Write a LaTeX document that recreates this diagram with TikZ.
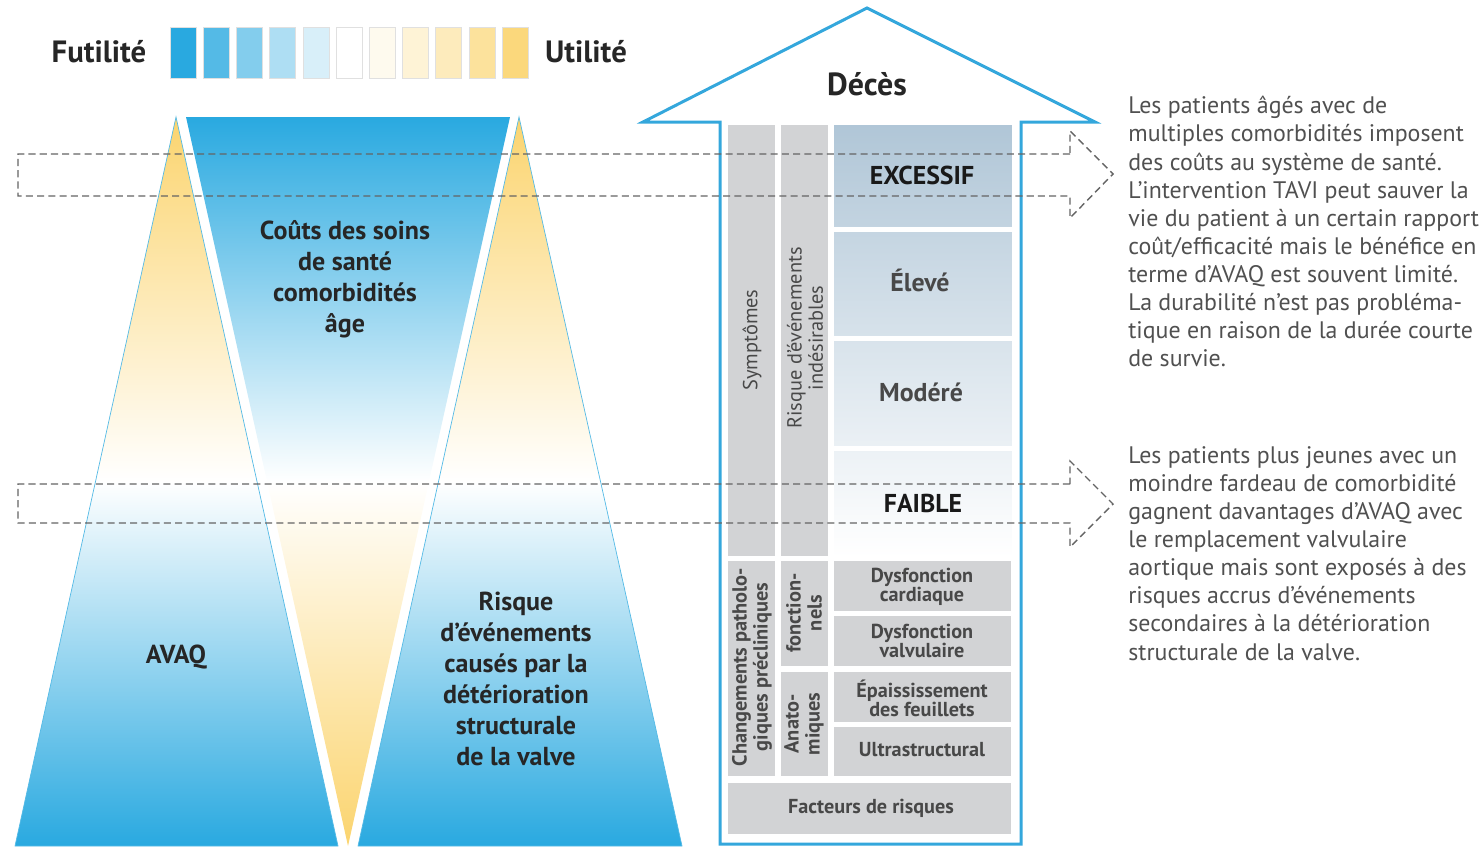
\documentclass[tikz,border=0pt]{standalone}
\usepackage{fontspec}
\setmainfont{PT Sans}
\usetikzlibrary{positioning}

\definecolor{skyblue}{RGB}{41,169,224}
\definecolor{sunyellow}{RGB}{251,212,110}
\definecolor{cellgray}{RGB}{210,211,213}
\definecolor{steel}{RGB}{176,198,215}
\definecolor{inkgray}{RGB}{72,72,72}
\definecolor{notegray}{RGB}{80,80,80}
\definecolor{dashgray}{RGB}{100,100,100}
\definecolor{arrowblue}{RGB}{52,167,220}

\tikzset{
  trilabel/.style={font=\bfseries\fontsize{14.8}{17.6}\selectfont, text=black!85, align=center},
  head/.style={font=\bfseries\fontsize{17.5}{19}\selectfont, text=black!85},
  cell/.style={fill=cellgray, draw=white, line width=0.6pt},
  celltext/.style={font=\bfseries\fontsize{11.5}{11}\selectfont, text=inkgray, align=center},
  sidetext/.style={font=\bfseries\fontsize{11.6}{12}\selectfont, text=inkgray, align=center, rotate=90},
  risktext/.style={font=\bfseries\fontsize{14.7}{16}\selectfont, text=inkgray},
  notetext/.style={font=\fontsize{13.6}{16}\selectfont, text=notegray, align=left, anchor=north west, inner sep=0pt},
  guide/.style={draw=dashgray, dash pattern=on 4pt off 2.4pt, line width=0.8pt}
}

\begin{document}
\begin{tikzpicture}[x=0.02cm, y=-0.02cm]
  \useasboundingbox (0,0) rectangle (1483,846);
  \newcommand{\legStep}{33.2}
  \newcommand{\legWidth}{26}

  % legend scale
  \foreach \c [count=\i from 0] in {skyblue, skyblue!80!white, skyblue!58!white, skyblue!38!white, skyblue!18!white, white,
      sunyellow!12!white, sunyellow!28!white, sunyellow!46!white, sunyellow!68!white, sunyellow!90!white}
    \fill[\c, draw=black!12, line width=0.3pt] ({170+\i*\legStep},27) rectangle +(\legWidth,51);
  \node[head] (futile) at (99,52) {Futilité};
  \node[head] (useful) at (586,52) {Utilité};

  % triangles
  \shade[top color=sunyellow, bottom color=skyblue, middle color=white, draw=skyblue!80, line width=0.4pt]
    (176,117) -- (338,846) -- (15,846) -- cycle;		% left
  \shade[top color=skyblue, bottom color=sunyellow, middle color=white]
    (186,117) -- (510,117) -- (348,846) -- cycle;		% middle, upside down
  \shade[top color=sunyellow, bottom color=skyblue, middle color=white, draw=skyblue!80, line width=0.4pt]
    (519,117) -- (682,846) -- (358,846) -- cycle;		% right

  \node[trilabel] (costs) at (345,279) {Coûts des soins\\de santé\\comorbidités\\âge};
  \node[trilabel] (qaly) at (176,657) {AVAQ};
  \node[trilabel] (svd) at (516,679) {Risque\\d’événements\\causés par la\\détérioration\\structurale\\de la valve};

  % big arrow
  \draw[arrowblue, line width=1.7pt, line join=miter]
    (720,844) -- (720,122) -- (643,122) -- (867,8) -- (1095,122) -- (1021,122) -- (1021,844) -- cycle;
  \node[head, font=\bfseries\fontsize{18.2}{20}\selectfont] (death) at (867,84) {Décès};

  % left columns
  \fill[cell] (727,124) rectangle (776,557);
  \fill[cell] (727,560) rectangle (776,777);
  \fill[cell] (780,124) rectangle (829,557);
  \fill[cell] (780,560) rectangle (829,667);
  \fill[cell] (780,671) rectangle (829,777);

  % risk levels
  \shade[top color=steel, bottom color=steel!76!white, draw=white] (833,124) rectangle (1012,227);
  \shade[top color=steel!74!white, bottom color=steel!51!white, draw=white] (833,231) rectangle (1012,336);
  \shade[top color=steel!49!white, bottom color=steel!26!white, draw=white] (833,340) rectangle (1012,446);
  \shade[top color=steel!24!white, bottom color=white, draw=white] (833,450) rectangle (1012,557);

  % lower cells
  \fill[cell] (833,560) rectangle (1012,612);
  \fill[cell] (833,615) rectangle (1012,667);
  \fill[cell] (833,671) rectangle (1012,723);
  \fill[cell] (833,726) rectangle (1012,777);
  \fill[cell] (727,782) rectangle (1012,835);

  \node[sidetext, font=\fontsize{11.6}{12}\selectfont] (symp) at (752,340) {Symptômes};
  \node[sidetext, font=\fontsize{11.6}{12}\selectfont] (adverse) at (805,338) {Risque d’événements\\indésirables};
  \node[sidetext] (changes) at (752,667) {Changements patholo-\\giques précliniques};
  \node[sidetext] (func) at (804,613) {fonction-\\nels};
  \node[sidetext] (anat) at (804,724) {Anato-\\miques};

  \node[risktext, text=black!90] (excess) at (922,175) {EXCESSIF};
  \node[risktext] (high) at (920,280) {Élevé};
  \node[risktext] (moderate) at (921,392) {Modéré};
  \node[risktext, text=black!90] (low) at (923,503) {FAIBLE};

  \node[celltext] (cardiac) at (922,587) {Dysfonction\\cardiaque};
  \node[celltext] (valvular) at (922,641) {Dysfonction\\valvulaire};
  \node[celltext] (leaflet) at (922,698) {Épaississement\\des feuillets};
  \node[celltext] (ultra) at (922,750) {Ultrastructural};
  \node[celltext] (factors) at (871,808) {Facteurs de risques};

  % dashed guide arrows
  \draw[guide] (1070,154) -- (18,154) -- (18,196) -- (1070,196) -- (1070,218) -- (1113,174) -- (1070,131) -- cycle;
  \draw[guide] (1070,484) -- (18,484) -- (18,523) -- (1070,523) -- (1070,547) -- (1113,504) -- (1070,461) -- cycle;

  % notes
  \node[notetext] (oldnote) at (1128,96) {Les patients âgés avec de\\multiples comorbidités imposent\\des coûts au système de santé.\\L’intervention TAVI peut sauver la\\vie du patient à un certain rapport\\coût/efficacité mais le bénéfice en\\terme d’AVAQ est souvent limité.\\La durabilité n’est pas probléma-\\tique en raison de la durée courte\\de survie.};
  \node[notetext] (youngnote) at (1128,446) {Les patients plus jeunes avec un\\moindre fardeau de comorbidité\\gagnent davantages d’AVAQ avec\\le remplacement valvulaire\\aortique mais sont exposés à des\\risques accrus d’événements\\secondaires à la détérioration\\structurale de la valve.};
\end{tikzpicture}
\end{document}
